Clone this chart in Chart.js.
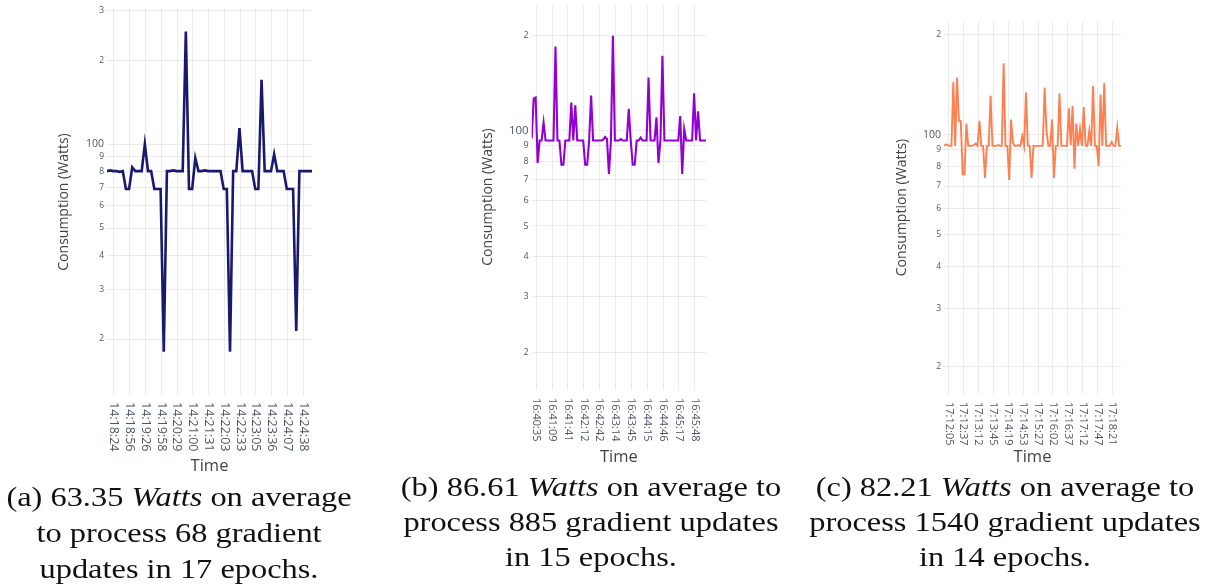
<!DOCTYPE html>
<html>
<head>
<meta charset="utf-8">
<script src="https://cdn.jsdelivr.net/npm/chart.js@4.4.0/dist/chart.umd.min.js"></script>
<style>
  body { margin: 0; background: #fff; width: 1207px; height: 584px; position: relative; overflow: hidden; }
  canvas { position: absolute; top: 0; }
  .cap {
    position: absolute; width: 500px; text-align: center; white-space: nowrap;
    font-family: "Liberation Serif", serif; font-size: 27px; color: #111;
    transform: scaleX(1.2); transform-origin: 50% 0;
  }
</style>
</head>
<body>
<canvas id="chartA" width="330" height="480" style="left:0px"></canvas>
<canvas id="chartB" width="300" height="475" style="left:420px"></canvas>
<canvas id="chartC" width="300" height="475" style="left:840px"></canvas>

<div class="cap" style="left:-71px; top:479px; line-height:36px">(a) 63.35 <i>Watts</i> on average<br>to process 68 gradient<br>updates in 17 epochs.</div>
<div class="cap" style="left:341px; top:470px; line-height:35px">(b) 86.61 <i>Watts</i> on average to<br>process 885 gradient updates<br>in 15 epochs.</div>
<div class="cap" style="left:755px; top:470px; line-height:35px">(c) 82.21 <i>Watts</i> on average to<br>process 1540 gradient updates<br>in 14 epochs.</div>

<script>
// log-axis gridlines (Watts)
const yTicks = [20, 30, 40, 50, 60, 70, 80, 90, 100, 200, 300];

// run (a): one sample per gradient update
const timeLabelsA = ['14:18:24', '14:18:56', '14:19:26', '14:19:58', '14:20:29', '14:21:00', '14:21:31',
  '14:22:03', '14:22:33', '14:23:05', '14:23:36', '14:24:07', '14:24:38'];
const powerA = [80, 80.5, 80, 80, 79.5, 80, 69, 69, 82.5, 80, 80, 80, 100, 80, 80, 69, 69, 69, 18,
  80, 80, 80.5, 80, 80, 80, 253, 69, 69, 89, 80, 80, 80.5, 80, 80, 80, 80, 80, 69, 69, 18,
  80, 80, 114, 80, 80, 80, 80, 69, 69, 170, 80, 80, 80, 92, 80, 80, 80, 69, 69, 69, 21.4,
  80, 80, 80, 80, 80];

// run (b)
const timeLabelsB = ['16:40:35', '16:41:09', '16:41:41', '16:42:12', '16:42:42', '16:43:14',
  '16:43:45', '16:44:15', '16:44:46', '16:45:17', '16:45:48'];
const powerB = [94.5, 126, 127, 79, 93, 93, 106, 93, 93, 93, 93, 93, 184, 93, 93, 78, 78, 93, 93, 93,
  122.6, 93, 120, 93, 93, 93, 93, 78, 78, 93, 129, 93, 93, 93, 93, 93, 93.5, 95.5, 94, 73,
  93, 199, 93, 93, 93, 94, 93, 93, 93, 117, 93, 78, 78, 93, 93, 95, 93, 93, 93, 147,
  93, 93, 93, 110, 79, 93, 172, 93, 93, 93, 93, 93, 93, 93, 93, 111, 73, 101, 93, 93,
  93, 93, 131, 93, 115, 93, 93, 93, 93];

// run (c)
const timeLabelsC = ['17:12:05', '17:12:37', '17:13:12', '17:13:45', '17:14:19', '17:14:53',
  '17:15:27', '17:16:02', '17:16:37', '17:17:12', '17:17:47', '17:18:21'];
const powerC = [92.5, 93.5, 93, 92.5, 92.5, 144, 92.5, 148.5, 110, 110, 76, 76, 108, 92.5, 92.5, 92.5,
  93, 94, 92.5, 110, 92.5, 92.5, 74, 92.5, 92.5, 131, 92.5, 92.5, 92.5, 93, 92.5, 92.5,
  164, 92.5, 92.5, 73, 111, 94.5, 92.5, 92.5, 93, 92.5, 99, 92.5, 134, 92.5, 92.5, 74,
  92.5, 92.5, 92.5, 92.5, 92.5, 92.5, 138.5, 103, 92.5, 92.5, 111, 74, 92.5, 92.5, 133, 92.5,
  92.5, 92.5, 92.5, 120, 93, 122, 79, 108, 92.5, 104, 92.5, 121, 92.5, 92.5, 103, 92.5,
  140, 92.5, 92.5, 80.5, 132, 92.5, 143, 92.5, 92.5, 92.5, 95, 92.5, 92.5, 105, 92.5, 92.5];

const FONT = '"Open Sans", sans-serif';
const GRID = '#ebebeb';
const TICK_COLOR = '#4e5666';
const TITLE_COLOR = '#444';

function drawPanel(id, o) {
  const n = o.values.length;
  const tickPos = o.labels.map((_, j) => o.firstTick + o.step * j);

  // rotated time labels, reading top to bottom
  const timeLabels = {
    id: 'timeLabels',
    afterDraw(chart) {
      const ctx = chart.ctx;
      const xs = chart.scales.x;
      ctx.save();
      ctx.font = o.timeSize + 'px ' + FONT;
      ctx.fillStyle = TICK_COLOR;
      ctx.textAlign = 'left';
      ctx.textBaseline = 'middle';
      o.labels.forEach((lab, j) => {
        ctx.save();
        ctx.translate(xs.getPixelForValue(tickPos[j]), chart.chartArea.bottom + o.labelGap);
        ctx.rotate(Math.PI / 2);
        ctx.fillText(lab, 0, 0);
        ctx.restore();
      });
      ctx.restore();
    }
  };

  return new Chart(document.getElementById(id), {
    type: 'line',
    data: {
      datasets: [{
        data: o.values.map((v, i) => ({ x: i, y: v })),
        borderColor: o.color,
        borderWidth: o.lineWidth,
        pointRadius: 0,
        tension: 0,
        fill: false
      }]
    },
    options: {
      responsive: false,
      animation: false,
      devicePixelRatio: 1,
      layout: { padding: o.padding },
      plugins: { legend: { display: false }, tooltip: { enabled: false } },
      scales: {
        x: {
          type: 'linear',
          min: 0,
          max: n - 1,
          grid: { color: GRID, drawTicks: false },
          border: { display: false },
          ticks: { display: false },
          afterBuildTicks: s => { s.ticks = tickPos.map(v => ({ value: v })); },
          afterFit: s => { s.height = o.xHeight; s.paddingLeft = 0; s.paddingRight = 0; },
          title: {
            display: true, text: 'Time', color: TITLE_COLOR,
            font: { family: FONT, size: 16.5 },
            padding: { top: 0, bottom: o.timePad }
          }
        },
        y: {
          type: 'logarithmic',
          min: o.yMin,
          max: o.yMax,
          grid: { color: GRID, drawTicks: false },
          border: { display: false },
          afterBuildTicks: s => {
            s.ticks = yTicks.filter(v => v >= o.yMin && v <= o.yMax).map(v => ({ value: v }));
          },
          afterFit: s => { s.width = o.yWidth; s.paddingTop = 0; s.paddingBottom = 0; },
          ticks: {
            autoSkip: false,
            padding: 3,
            color: TICK_COLOR,
            callback: v => (v === 100 ? '100' : String(v)[0]),
            font: c => ({ family: FONT, size: c.tick && c.tick.value === 100 ? o.bigSize : o.smallSize })
          },
          title: {
            display: true, text: 'Consumption (Watts)', color: TITLE_COLOR,
            font: { family: FONT, size: 14 },
            padding: { top: o.titlePad, bottom: 0 }
          }
        }
      }
    },
    plugins: [timeLabels]
  });
}

drawPanel('chartA', {
  values: powerA, labels: timeLabelsA, firstTick: 2.2, step: 5,
  color: '#191970', lineWidth: 2.6,
  yMin: 12.5, yMax: 307.5, yWidth: 107, xHeight: 84,
  padding: { left: 0, right: 18, top: 8, bottom: 0 },
  smallSize: 8.5, bigSize: 10.5, timeSize: 12.5, labelGap: 6,
  titlePad: 55.6, timePad: 4.1
});

drawPanel('chartB', {
  values: powerB, labels: timeLabelsB, firstTick: 2.3, step: 8,
  color: '#9400d3', lineWidth: 2.1,
  yMin: 15.2, yMax: 250.6, yWidth: 111.7, xHeight: 85,
  padding: { left: 0, right: 14, top: 4, bottom: 0 },
  smallSize: 9, bigSize: 11.5, timeSize: 11, labelGap: 8,
  titlePad: 60.1, timePad: 7.6
});

drawPanel('chartC', {
  values: powerC, labels: timeLabelsC, firstTick: 2.5, step: 8,
  color: '#ff7f50', lineWidth: 1.9,
  yMin: 16.55, yMax: 219.9, yWidth: 104, xHeight: 81,
  padding: { left: 0, right: 19, top: 21, bottom: 0 },
  smallSize: 8.5, bigSize: 10.5, timeSize: 11, labelGap: 8,
  titlePad: 53.6, timePad: 8.1
});
</script>
</body>
</html>
